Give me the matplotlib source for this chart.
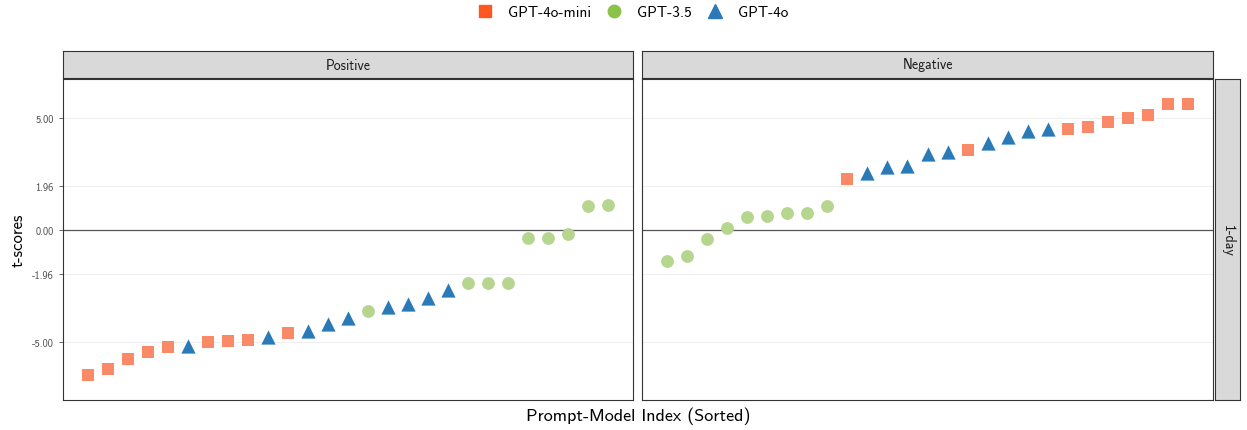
import matplotlib.pyplot as plt
from matplotlib.lines import Line2D

plt.rcParams['font.family'] = ['cmss10', 'DejaVu Sans']
plt.rcParams['axes.unicode_minus'] = False
plt.rcParams['mathtext.fontset'] = 'cm'

# t-scores sorted per panel, with the model that produced each point
positive_vals = [-6.49, -6.23, -5.80, -5.48, -5.23, -5.19, -5.01, -4.96, -4.92,
                 -4.81, -4.63, -4.53, -4.20, -3.93, -3.65, -3.47, -3.32, -3.05,
                 -2.70, -2.38, -2.38, -2.38, -0.36, -0.36, -0.17, 1.08, 1.12]
positive_models = ['mini', 'mini', 'mini', 'mini', 'mini', '4o', 'mini', 'mini', 'mini',
                   '4o', 'mini', '4o', '4o', '4o', '35', '4o', '4o', '4o',
                   '4o', '35', '35', '35', '35', '35', '35', '35', '35']

negative_vals = [-1.40, -1.17, -0.40, 0.07, 0.60, 0.63, 0.76, 0.78, 1.08,
                 2.29, 2.54, 2.81, 2.86, 3.41, 3.51, 3.59, 3.90, 4.18,
                 4.45, 4.53, 4.54, 4.60, 4.86, 5.01, 5.17, 5.66, 5.66]
negative_models = ['35', '35', '35', '35', '35', '35', '35', '35', '35',
                   'mini', '4o', '4o', '4o', '4o', '4o', 'mini', '4o', '4o',
                   '4o', '4o', 'mini', 'mini', 'mini', 'mini', 'mini', 'mini', 'mini']

panels = ['Positive', 'Negative']
row_label = '1-day'
yticks = [-5.00, -1.96, 0.00, 1.96, 5.00]

models = ['mini', '35', '4o']
names = {'mini': 'GPT-4o-mini', '35': 'GPT-3.5', '4o': 'GPT-4o'}
markers = {'mini': 's', '35': 'o', '4o': '^'}
point_colors = {'mini': '#FA8968', '35': '#B6D58F', '4o': '#2A7AB8'}
legend_colors = {'mini': '#FF5722', '35': '#8BC34A', '4o': '#2A7AB8'}
sizes = {'mini': 80, '35': 85, '4o': 105}

W, H = 1247, 431
fig = plt.figure(figsize=(W / 100, H / 100), dpi=100)

def box(x0, y0, x1, y1):
    return [x0 / W, 1 - y1 / H, (x1 - x0) / W, (y1 - y0) / H]

def style_frame(a):
    for s in a.spines.values():
        s.set_color('#333333')
        s.set_linewidth(0.8)

panel_x = [(63, 633), (642, 1213)]
top, bottom = 80, 401
data = [(positive_vals, positive_models), (negative_vals, negative_models)]

for i, (title, (vals, mods)) in enumerate(zip(panels, data)):
    x0, x1 = panel_x[i]
    ax = fig.add_axes(box(x0, top, x1, bottom))
    idx = list(range(1, len(vals) + 1))
    for m in models:
        xs = [k for k, mm in zip(idx, mods) if mm == m]
        ys = [v for v, mm in zip(vals, mods) if mm == m]
        ax.scatter(xs, ys, marker=markers[m], s=sizes[m], color=point_colors[m],
                   linewidths=0, zorder=3)
    for t in yticks:
        ax.axhline(t, color='#EFEFEF', lw=0.8, zorder=1)
    ax.axhline(0, color='#555555', lw=0.9, zorder=2)
    ax.set_xlim(1 - 1.25, len(vals) + 1.25)
    ax.set_ylim(-7.62, 6.77)
    ax.set_xticks([])
    style_frame(ax)
    if i == 0:
        ax.set_yticks(yticks)
        ax.set_yticklabels(['%.2f' % t for t in yticks])
        ax.tick_params(axis='y', labelsize=7.5, colors='#4D4D4D', length=3, width=0.6)
        ax.set_ylabel('t-scores', fontsize=12, labelpad=5)
    else:
        ax.set_yticks([])

    # facet strip on top
    sax = fig.add_axes(box(x0, 52, x1, 79))
    sax.set_xticks([])
    sax.set_yticks([])
    sax.set_facecolor('#D9D9D9')
    style_frame(sax)
    sax.text(0.5, 0.5, title, ha='center', va='center', fontsize=10,
             color='#1A1A1A', transform=sax.transAxes)

# row strip on the right
rax = fig.add_axes(box(1215, top, 1240, bottom))
rax.set_xticks([])
rax.set_yticks([])
rax.set_facecolor('#D9D9D9')
style_frame(rax)
rax.text(0.5, 0.5, row_label, ha='center', va='center', rotation=-90,
         fontsize=10, color='#1A1A1A', transform=rax.transAxes)

fig.text(638 / W, 1 - 416 / H, 'Prompt-Model Index (Sorted)', ha='center',
         va='center', fontsize=13)

handles = [Line2D([], [], ls='none', marker=markers[m], color=legend_colors[m],
                  markersize=9 if m != '4o' else 10, label=names[m]) for m in models]
fig.legend(handles=handles, loc='center', bbox_to_anchor=(632 / W, 1 - 13 / H),
           ncol=3, frameon=False, fontsize=11, handletextpad=0.9,
           columnspacing=0.9, handlelength=1.2)

fig.savefig('out.png', dpi=100)
